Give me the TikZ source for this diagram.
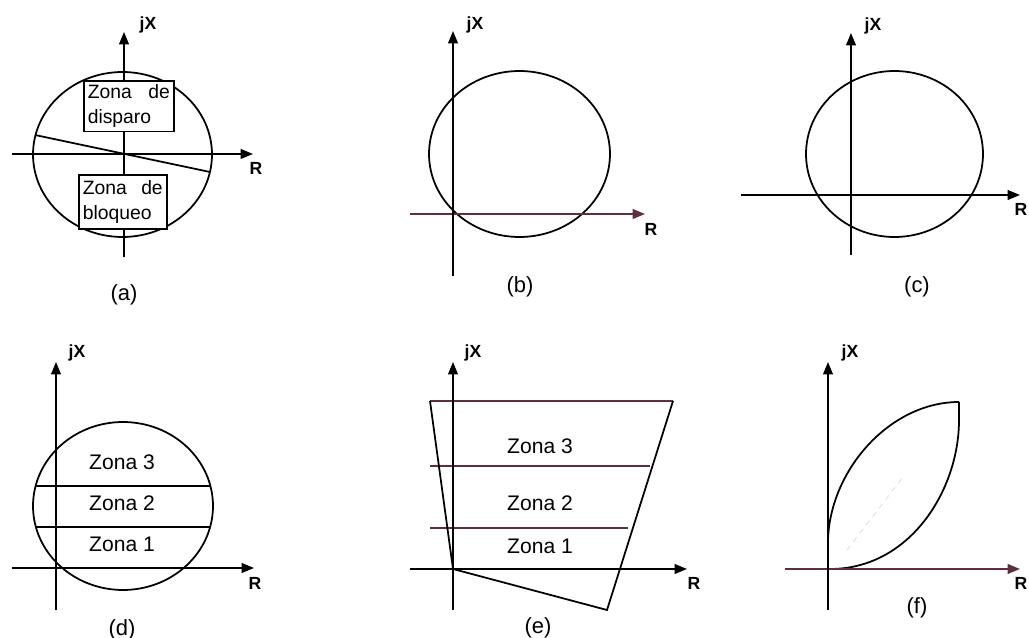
\documentclass[tikz,border=0pt]{standalone}
\usepackage{fontspec}
\setmainfont{Liberation Sans}
\usetikzlibrary{arrows.meta, positioning}

\definecolor{axisred}{RGB}{95,45,65}

\begin{document}
\begin{tikzpicture}[x=0.02cm, y=-0.02cm,
  axis/.style={-{Triangle[length=7pt,width=5.5pt]}, line width=1pt},
  curve/.style={line width=1pt},
  zline/.style={line width=1pt, axisred},
  axlbl/.style={font=\fontsize{10}{12}\selectfont\bfseries, inner sep=0pt},
  caplbl/.style={font=\fontsize{12.5}{15}\selectfont, inner sep=0pt},
  zona/.style={font=\fontsize{12}{14}\selectfont, inner sep=0pt},
  zbox/.style={rectangle, draw, line width=0.9pt, fill=white, align=left, inner sep=2pt, font=\fontsize{11}{14.5}\selectfont}
]
  \useasboundingbox (0,0) rectangle (1029,638);

  % (a)
  \draw[line width=0.6pt] (12,154) -- (124,154);
  \draw[axis] (124,154) -- (253,154);
  \draw[axis] (124,257) -- (124,32);
  \draw[curve] (122.5,154.5) ellipse [x radius=1.79cm, y radius=1.65cm];
  \draw[curve] (35,135) -- (210,172);
  \node[zbox, minimum width=1.8cm, minimum height=0.98cm, text width=1.64cm, anchor=north west] (disp) at (83,80) {Zona\hfill de\\disparo};
  \node[zbox, minimum width=1.76cm, minimum height=1.08cm, text width=1.6cm, anchor=north west] (bloq) at (78,174) {Zona\hfill de\\bloqueo};
  \node[axlbl] (jxa) at (148,25) {jX};
  \node[axlbl] (ra) at (256,168) {R};
  \node[caplbl] (capa) at (124,295) {(a)};

  % (b)
  \draw[curve] (519.5,154) ellipse [x radius=1.81cm, y radius=1.66cm];
  \draw[axis, axisred] (410,214) -- (645,214);
  \draw[axis] (453,276) -- (453,31);
  \node[axlbl] (jxb) at (475,25) {jX};
  \node[axlbl] (rb) at (651,229) {R};
  \node[caplbl] (capb) at (520,287) {(b)};

  % (c)
  \draw[curve] (894.5,154) ellipse [x radius=1.77cm, y radius=1.66cm];
  \draw[axis] (741,195) -- (1020,195);
  \draw[axis] (851,255) -- (851,33);
  \node[axlbl] (jxc) at (873,26) {jX};
  \node[axlbl] (rc) at (1021,209) {R};
  \node[caplbl] (capc) at (917,287) {(c)};

  % (d)
  \draw[curve] (123,506) ellipse [x radius=1.8cm, y radius=1.68cm];
  \draw[curve] (35.6,486) -- (210.4,486);
  \draw[curve] (35.5,527) -- (210.5,527);
  \draw[axis] (12,568) -- (254,568);
  \draw[axis] (56,610) -- (56,362);
  \node[zona] (z3d) at (122,462) {Zona 3};
  \node[zona] (z2d) at (122,503) {Zona 2};
  \node[zona] (z1d) at (122,544) {Zona 1};
  \node[axlbl] (jxd) at (77,353) {jX};
  \node[axlbl] (rd) at (255,583) {R};
  \node[caplbl] (capd) at (122,630) {(d)};

  % (e)
  \draw[zline] (430,401) -- (673,401);
  \draw[zline] (430,466) -- (650,466);
  \draw[zline] (430,528) -- (628,528);
  \draw[curve] (430,401) -- (453,569) -- (607,610) -- (673,401);
  \draw[axis] (410,569) -- (687,569);
  \draw[axis] (453,610) -- (453,362);
  \node[zona] (z3e) at (540,446) {Zona 3};
  \node[zona] (z2e) at (540,503) {Zona 2};
  \node[zona] (z1e) at (540,546) {Zona 1};
  \node[axlbl] (jxe) at (473,353) {jX};
  \node[axlbl] (re) at (694,583) {R};
  \node[caplbl] (cape) at (538,628) {(e)};

  % (f)
  \draw[gray!30, dashed, line width=0.4pt] (847,550) -- (903,477);
  \draw[curve] (828,569) -- (828,540) .. controls (830,470) and (890,402) .. (959,402);
  \draw[curve] (830,569) .. controls (910,569) and (959,490) .. (959,420) -- (959,402);
  \draw[axis, axisred] (785,569) -- (1020,569);
  \draw[axis] (828,610) -- (828,362);
  \node[axlbl] (jxf) at (850,353) {jX};
  \node[axlbl] (rf) at (1021,583) {R};
  \node[caplbl] (capf) at (917,608) {(f)};
\end{tikzpicture}
\end{document}
